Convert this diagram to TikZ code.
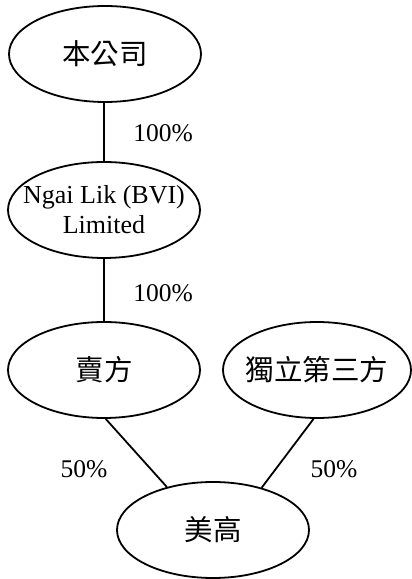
\documentclass[tikz,border=0pt]{standalone}
\usepackage{fontspec}
\setmainfont{Liberation Serif}
\newfontfamily\cjk{Noto Sans CJK TC}
\usetikzlibrary{shapes.geometric}
\begin{document}
\begin{tikzpicture}[x=1pt,y=1pt,
  ent/.style={draw, ellipse, line width=1.8pt, minimum width=192pt, minimum height=96pt,
    inner xsep=-30pt, inner ysep=-6pt, align=center,
    font=\fontsize{26}{30}\selectfont},
  cjkt/.style={font=\fontsize{28.5}{30}\selectfont\cjk},
  pct/.style={font=\fontsize{25.5}{28}\selectfont, inner sep=0pt},
  link/.style={line width=1.8pt}]
\useasboundingbox (0,0) rectangle (412,579);
\node[ent, cjkt] (co) at (105,525) {本公司};
\node[ent] (bvi) at (104,369) {\raisebox{-3pt}{\parbox{180pt}{\centering Ngai Lik (BVI)\\Limited}}};
\node[ent, cjkt] (seller) at (104,209) {賣方};
\node[ent, cjkt, minimum width=188pt] (third) at (317,209) {獨立第三方};
\node[ent, cjkt] (mg) at (213,49) {美高};
\draw[link] (co.south -| 104,0) -- (bvi.north -| 104,0);
\draw[link] (bvi.south -| 104,0) -- (seller.north -| 104,0);
\draw[link] (seller.272) -- (mg.137);
\draw[link] (third.266) -- (mg.41);
\node[pct] (p1) at (163,446) {100\%};
\node[pct] (p2) at (163,286) {100\%};
\node[pct] (p3) at (84,110) {50\%};
\node[pct] (p4) at (334,110) {50\%};
\end{tikzpicture}
\end{document}
